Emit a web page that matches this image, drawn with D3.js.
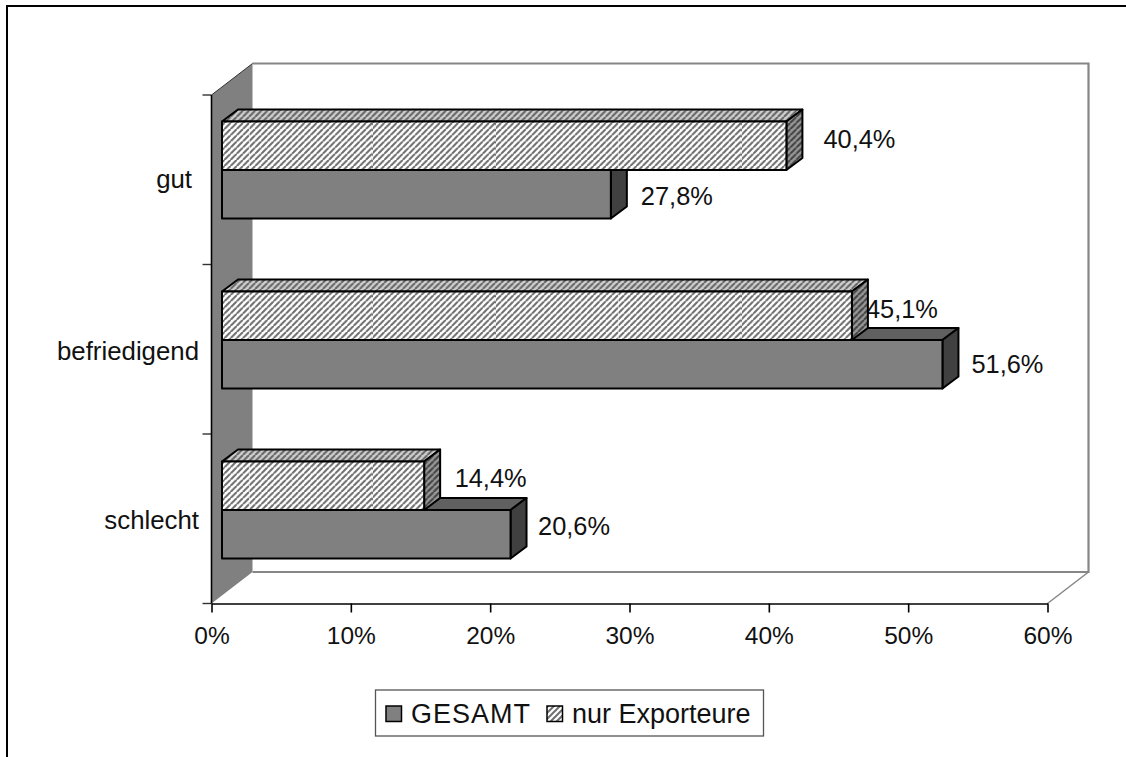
<!DOCTYPE html>
<html><head><meta charset="utf-8">
<script src="https://cdn.jsdelivr.net/npm/d3@7"></script>
<style>html,body{margin:0;padding:0;background:#fff}svg{display:block}text{font-family:"Liberation Sans",Arial,sans-serif;fill:#111}</style>
</head><body><svg id="c" width="1126" height="757"></svg>
<script>
const categories = ["gut", "befriedigend", "schlecht"];
const gesamt = [27.8, 51.6, 20.6];
const exporteure = [40.4, 45.1, 14.4];
const seriesNames = ["GESAMT", "nur Exporteure"];
const xTicks = [0, 10, 20, 30, 40, 50, 60];
const fmt = v => v.toFixed(1).replace(".", ",") + "%";

const svg = d3.select("#c");
const x = d3.scaleLinear().domain([0, 60]).range([211.5, 1047.5]);
const y = d3.scaleBand().domain(categories).range([95, 603.5]).padding(0);
const wall = {dx: 41, dy: -31.5};
const depth = {dx: 16, dy: -12};
const barX = 10.5, barEnd = 12;

const defs = svg.append("defs");
function hatch(id, bg, fg, sw, periods, seam) {
  const step = 6.15, tile = step * periods;
  const p = defs.append("pattern").attr("id", id).attr("patternUnits", "userSpaceOnUse")
    .attr("x", 249).attr("width", tile).attr("height", step);
  p.append("rect").attr("width", tile).attr("height", step).attr("fill", bg);
  p.append("path").attr("d", d3.range(-1, periods + 1).map(k => `M${k * step},${step}L${(k + 1) * step},0`).join(""))
    .attr("stroke", fg).attr("stroke-width", sw);
  if (seam) p.append("rect").attr("x", 0).attr("width", 1).attr("height", step).attr("fill", "#fff").attr("opacity", 0.45);
}
hatch("hf", "#ffffff", "#707070", 2.1, 20, true);
hatch("ht", "#d0d0d0", "#666666", 2.1, 1, false);
hatch("hs", "#989898", "#444444", 2.1, 1, false);
const lp = defs.append("pattern").attr("id", "hl").attr("patternUnits", "userSpaceOnUse").attr("width", 6).attr("height", 6);
lp.append("rect").attr("width", 6).attr("height", 6).attr("fill", "#fff");
lp.append("path").attr("d", "M-1,1L1,-1M0,6L6,0M5,7L7,5").attr("stroke", "#707070").attr("stroke-width", 2);

// frame
svg.append("path").attr("d", "M7,757V6H1126").attr("fill", "none").attr("stroke", "#000").attr("stroke-width", 2);

// side wall
const x0 = x(0), yT = y.range()[0], yB = y.range()[1];
svg.append("path").attr("d", `M${x0},${yT}L${x0 + wall.dx},${yT + wall.dy}V${yB + wall.dy}L${x0},${yB}Z`).attr("fill", "#808080");
// back wall and floor outline
svg.append("path")
  .attr("d", `M${x0 + wall.dx},${yT + wall.dy}H${x(60) + wall.dx}V${yB + wall.dy}H${x0 + wall.dx}`)
  .attr("fill", "none").attr("stroke", "#868686").attr("stroke-width", 2.2);
svg.append("path")
  .attr("d", `M${x(60)},${yB}L${x(60) + wall.dx},${yB + wall.dy}`)
  .attr("fill", "none").attr("stroke", "#868686").attr("stroke-width", 1.5);
svg.append("path")
  .attr("d", `M${x0},${yT}L${x0 + wall.dx},${yT + wall.dy}`)
  .attr("fill", "none").attr("stroke", "#333").attr("stroke-width", 1);

// axes
const gx = svg.append("g").attr("transform", `translate(0,${yB})`)
  .call(d3.axisBottom(x).tickValues(xTicks).tickFormat(d => d + "%").tickSize(9).tickSizeOuter(0).tickPadding(14));
gx.selectAll("text").style("font-size", "24.5px").style("font-family", '"Liberation Sans"').attr("fill", "#111");
gx.selectAll("line,path").attr("stroke", "#000").attr("stroke-width", 1.6);

const yTickVals = [yT, yT + y.step(), yT + 2 * y.step(), yB];
svg.append("g").selectAll("line").data(yTickVals).join("line")
  .attr("x1", x0 - 9).attr("x2", x0).attr("y1", d => d).attr("y2", d => d)
  .attr("stroke", "#333").attr("stroke-width", 1.4);
svg.append("line").attr("x1", x0).attr("x2", x0).attr("y1", yT).attr("y2", yB).attr("stroke", "#000").attr("stroke-width", 1.6);

const catRight = [192, 199, 199];
svg.append("g").selectAll("text").data(categories).join("text")
  .attr("x", (d, i) => catRight[i]).attr("y", (d, i) => y(d) + y.bandwidth() / 2 + [8, 11, 10][i])
  .attr("text-anchor", "end").style("font-size", "25.8px").text(d => d);

// bars
const barH = 48.5, barOff = [26.5, 27, 27.5];
function bar(g, x1, x2, top, h, front, topFill, side) {
  const st = {stroke: "#000", "stroke-width": 2, "stroke-linejoin": "round"};
  const add = (d, f) => { const s = g.append("path").attr("d", d).attr("fill", f); for (const k in st) s.attr(k, st[k]); };
  add(`M${x1},${top}L${x1 + depth.dx},${top + depth.dy}H${x2 + depth.dx}L${x2},${top}Z`, topFill);
  add(`M${x2},${top}L${x2 + depth.dx},${top + depth.dy}V${top + h + depth.dy}L${x2},${top + h}Z`, side);
  add(`M${x1},${top}H${x2}V${top + h}H${x1}Z`, front);
}
const labG = svg.append("g");
const gb = svg.append("g");
categories.forEach((c, i) => {
  const top = y(c) + barOff[i];
  const g2 = gb.append("g");
  bar(g2, x0 + barX, x(gesamt[i]) + barEnd, top + barH, barH, "#808080", "#606060", "#404040");
  bar(g2, x0 + barX, x(exporteure[i]) + barEnd, top, barH, "url(#hf)", "url(#ht)", "url(#hs)");
  labG.append("text").attr("x", x(exporteure[i]) + barEnd + [37, 14, 30.5][i]).attr("y", top + [26, 26, 25][i])
    .style("font-size", "25.4px").text(fmt(exporteure[i]));
  labG.append("text").attr("x", x(gesamt[i]) + barEnd + [30, 29, 27.5][i]).attr("y", top + barH + [35, 32.5, 25][i])
    .style("font-size", "25.4px").text(fmt(gesamt[i]));
});

// legend
const lg = svg.append("g");
lg.append("rect").attr("x", 375.5).attr("y", 690).attr("width", 388).attr("height", 46)
  .attr("fill", "#fff").attr("stroke", "#555").attr("stroke-width", 1.3);
lg.append("rect").attr("x", 386).attr("y", 706).attr("width", 15.5).attr("height", 15.5).attr("fill", "#808080").attr("stroke", "#000").attr("stroke-width", 1.5);
lg.append("rect").attr("x", 547).attr("y", 706).attr("width", 15.5).attr("height", 15.5).attr("fill", "url(#hl)").attr("stroke", "#000").attr("stroke-width", 1.5);
lg.append("text").attr("x", 411).attr("y", 723).style("font-size", "27px").style("letter-spacing", "1px").text(seriesNames[0]);
lg.append("text").attr("x", 572).attr("y", 723).style("font-size", "27px").text(seriesNames[1]);
</script></body></html>
